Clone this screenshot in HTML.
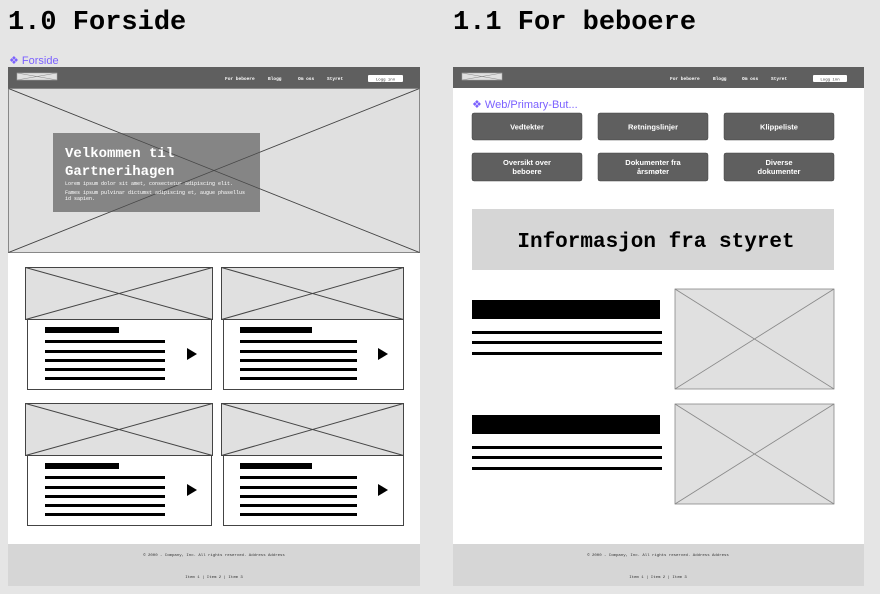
<!DOCTYPE html>
<html><head><meta charset="utf-8"><style>
html,body{margin:0;padding:0;background:#e5e5e5;}
svg{display:block;}
</style></head><body>
<svg width="880" height="594" viewBox="0 0 880 594" xmlns="http://www.w3.org/2000/svg">
<rect width="880" height="594" fill="#e5e5e5"/>
<g font-family="Liberation Mono, monospace" font-weight="bold" font-size="27" fill="#000">
<text x="8" y="29">1.0 Forside</text>
<text x="453" y="29">1.1 For beboere</text>
</g>
<text x="9" y="64" font-family="Liberation Sans, sans-serif" font-size="11" fill="#7b61ff">❖ Forside</text>

<!-- LEFT FRAME -->
<rect x="8" y="67" width="412" height="519" fill="#fff"/>
<rect x="8" y="67" width="412" height="21" fill="#5f5f5f"/>
<rect x="17" y="73" width="40" height="7" fill="#e0e0e0" stroke="#aaa" stroke-width="0.5"/>
<line x1="17" y1="73" x2="57" y2="80" stroke="#888" stroke-width="0.5"/><line x1="57" y1="73" x2="17" y2="80" stroke="#888" stroke-width="0.5"/>
<g font-family="Liberation Mono, monospace" font-size="4.5" fill="#fff" font-weight="bold">
<text x="225" y="80">For beboere</text><text x="268" y="80">Blogg</text><text x="298" y="80">Om oss</text><text x="327" y="80">Styret</text>
</g>
<rect x="368" y="75" width="35" height="7" rx="1" fill="#fff"/>
<text x="385.5" y="80.5" font-family="Liberation Mono, monospace" font-size="4" text-anchor="middle" fill="#333">Logg inn</text>
<rect x="8.5" y="88.5" width="411" height="164" fill="#e0e0e0" stroke="#888" stroke-width="1"/>
<line x1="8.5" y1="88.5" x2="419.5" y2="252.5" stroke="#666" stroke-width="0.8"/>
<line x1="419.5" y1="88.5" x2="8.5" y2="252.5" stroke="#666" stroke-width="0.8"/>
<rect x="53" y="133" width="207" height="79" fill="#808080" fill-opacity="0.95"/>
<line x1="53" y1="133" x2="260" y2="212" stroke="#444" stroke-width="0.7" opacity="0"/>
<line x1="8.5" y1="88.5" x2="419.5" y2="252.5" stroke="#444" stroke-width="0.7"/>
<line x1="419.5" y1="88.5" x2="8.5" y2="252.5" stroke="#444" stroke-width="0.7"/>
<g font-family="Liberation Mono, monospace" fill="#fff">
<text x="65" y="157" font-size="14" font-weight="bold">Velkommen til</text>
<text x="65" y="175" font-size="14" font-weight="bold">Gartnerihagen</text>
<text x="65" y="185" font-size="5">Lorem ipsum dolor sit amet, consectetur adipiscing elit.</text>
<text x="65" y="194" font-size="5">Fames ipsum pulvinar dictumst adipiscing et, augue phasellus</text>
<text x="65" y="200" font-size="5">id sapien.</text>
</g>

<!-- cards -->
<g stroke="#444" stroke-width="1" fill="none">
<rect x="25.5" y="267.5" width="187" height="52" fill="#e0e0e0"/><line x1="25.5" y1="267.5" x2="212.5" y2="319.5"/><line x1="212.5" y1="267.5" x2="25.5" y2="319.5"/>
<rect x="27.5" y="319.5" width="184" height="70" fill="#fff"/>
<rect x="221.5" y="267.5" width="182" height="52" fill="#e0e0e0"/><line x1="221.5" y1="267.5" x2="403.5" y2="319.5"/><line x1="403.5" y1="267.5" x2="221.5" y2="319.5"/>
<rect x="223.5" y="319.5" width="180" height="70" fill="#fff"/>
<rect x="25.5" y="403.5" width="187" height="52" fill="#e0e0e0"/><line x1="25.5" y1="403.5" x2="212.5" y2="455.5"/><line x1="212.5" y1="403.5" x2="25.5" y2="455.5"/>
<rect x="27.5" y="455.5" width="184" height="70" fill="#fff"/>
<rect x="221.5" y="403.5" width="182" height="52" fill="#e0e0e0"/><line x1="221.5" y1="403.5" x2="403.5" y2="455.5"/><line x1="403.5" y1="403.5" x2="221.5" y2="455.5"/>
<rect x="223.5" y="455.5" width="180" height="70" fill="#fff"/>
</g>
<g fill="#000">
<rect x="45" y="327" width="74" height="6"/>
<rect x="45" y="340" width="120" height="3"/><rect x="45" y="350" width="120" height="3"/><rect x="45" y="359" width="120" height="3"/><rect x="45" y="368" width="120" height="3"/><rect x="45" y="377" width="120" height="3"/>
<polygon points="187,348 197,354 187,360"/>
<rect x="240" y="327" width="72" height="6"/>
<rect x="240" y="340" width="117" height="3"/><rect x="240" y="350" width="117" height="3"/><rect x="240" y="359" width="117" height="3"/><rect x="240" y="368" width="117" height="3"/><rect x="240" y="377" width="117" height="3"/>
<polygon points="378,348 388,354 378,360"/>
<rect x="45" y="463" width="74" height="6"/>
<rect x="45" y="476" width="120" height="3"/><rect x="45" y="486" width="120" height="3"/><rect x="45" y="495" width="120" height="3"/><rect x="45" y="504" width="120" height="3"/><rect x="45" y="513" width="120" height="3"/>
<polygon points="187,484 197,490 187,496"/>
<rect x="240" y="463" width="72" height="6"/>
<rect x="240" y="476" width="117" height="3"/><rect x="240" y="486" width="117" height="3"/><rect x="240" y="495" width="117" height="3"/><rect x="240" y="504" width="117" height="3"/><rect x="240" y="513" width="117" height="3"/>
<polygon points="378,484 388,490 378,496"/>
</g>
<rect x="8" y="544" width="412" height="42" fill="#d6d6d6"/>
<g font-family="Liberation Mono, monospace" font-size="4" fill="#333" text-anchor="middle">
<text x="214" y="556">© 2000 - Company, Inc. All rights reserved. Address Address</text>
<text x="214" y="578">Item 1 | Item 2 |  Item 3</text>
<text x="658" y="556">© 2000 - Company, Inc. All rights reserved. Address Address</text>
<text x="658" y="578">Item 1 | Item 2 |  Item 3</text>
</g>

<!-- RIGHT FRAME -->
<rect x="453" y="67" width="411" height="477" fill="#fff"/>
<rect x="453" y="67" width="411" height="21" fill="#5f5f5f"/>
<rect x="462" y="73" width="40" height="7" fill="#e0e0e0" stroke="#aaa" stroke-width="0.5"/>
<line x1="462" y1="73" x2="502" y2="80" stroke="#888" stroke-width="0.5"/><line x1="502" y1="73" x2="462" y2="80" stroke="#888" stroke-width="0.5"/>
<g font-family="Liberation Mono, monospace" font-size="4.5" fill="#fff" font-weight="bold">
<text x="670" y="80">For beboere</text><text x="713" y="80">Blogg</text><text x="742" y="80">Om oss</text><text x="771" y="80">Styret</text>
</g>
<rect x="813" y="75" width="34" height="7" rx="1" fill="#fff"/>
<text x="830" y="80.5" font-family="Liberation Mono, monospace" font-size="4" text-anchor="middle" fill="#333">Logg inn</text>
<text x="472" y="108" font-family="Liberation Sans, sans-serif" font-size="11" fill="#7b61ff">❖ Web/Primary-But...</text>
<g fill="#5f5f5f" stroke="#444" stroke-width="0.5">
<rect x="472" y="113" width="110" height="27" rx="2"/><rect x="598" y="113" width="110" height="27" rx="2"/><rect x="724" y="113" width="110" height="27" rx="2"/>
<rect x="472" y="153" width="110" height="28" rx="2"/><rect x="598" y="153" width="110" height="28" rx="2"/><rect x="724" y="153" width="110" height="28" rx="2"/>
</g>
<g font-family="Liberation Sans, sans-serif" font-size="7.5" font-weight="bold" fill="#fff" text-anchor="middle">
<text x="527" y="129.5">Vedtekter</text><text x="653" y="129.5">Retningslinjer</text><text x="779" y="129.5">Klippeliste</text>
<text x="527" y="165">Oversikt over</text><text x="527" y="174">beboere</text>
<text x="653" y="165">Dokumenter fra</text><text x="653" y="174">årsmøter</text>
<text x="779" y="165">Diverse</text><text x="779" y="174">dokumenter</text>
</g>
<rect x="472" y="209" width="362" height="61" fill="#d6d6d6"/>
<text x="656" y="247" font-family="Liberation Mono, monospace" font-size="21" font-weight="bold" text-anchor="middle" fill="#000">Informasjon fra styret</text>
<g fill="#000">
<rect x="472" y="300" width="188" height="19"/>
<rect x="472" y="331" width="190" height="3"/><rect x="472" y="341" width="190" height="3"/><rect x="472" y="352" width="190" height="3"/>
<rect x="472" y="415" width="188" height="19"/>
<rect x="472" y="446" width="190" height="3"/><rect x="472" y="456" width="190" height="3"/><rect x="472" y="467" width="190" height="3"/>
</g>
<g stroke="#888" stroke-width="0.8" fill="#e0e0e0">
<rect x="675" y="289" width="159" height="100"/><line x1="675" y1="289" x2="834" y2="389"/><line x1="834" y1="289" x2="675" y2="389"/>
<rect x="675" y="404" width="159" height="100"/><line x1="675" y1="404" x2="834" y2="504"/><line x1="834" y1="404" x2="675" y2="504"/>
</g>
<rect x="453" y="544" width="411" height="42" fill="#d6d6d6"/>
<g font-family="Liberation Mono, monospace" font-size="4" fill="#333" text-anchor="middle">
<text x="658" y="556">© 2000 - Company, Inc. All rights reserved. Address Address</text>
<text x="658" y="578">Item 1 | Item 2 |  Item 3</text>
</g>
</svg>
</body></html>
